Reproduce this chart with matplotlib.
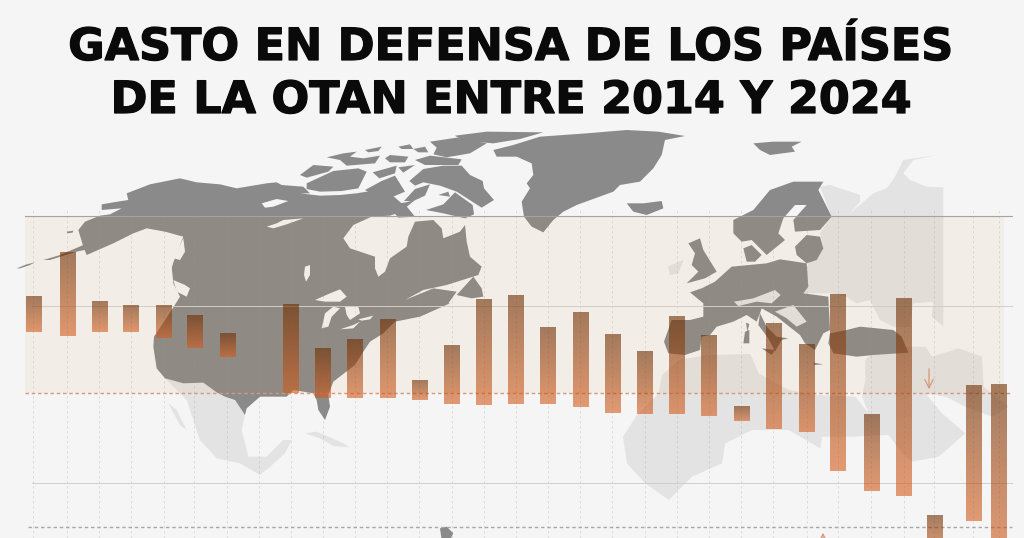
import matplotlib
matplotlib.use('Agg')
import matplotlib.pyplot as plt
import matplotlib.patheffects as pe
from matplotlib.patches import Polygon
import numpy as np

# 2014 / 2024 spending levels, no tick labels in the picture so the scale is read from the ref lines
slots = [0, 1, 2, 3, 4, 5, 6, 8, 9, 10, 11, 12, 13, 14, 15, 16, 17, 18, 19, 20,
         21, 22, 23, 24, 25, 26, 27, 28, 29, 30]
high_values = [2.54, 2.79, 2.51, 2.49, 2.49, 2.43, 2.33, 2.50, 2.25, 2.30, 2.41, 2.07, 2.27, 2.52, 2.55,
               2.37, 2.45, 2.33, 2.23, 2.43, 2.32, 1.92, 2.39, 2.27, 2.55, 1.88, 2.53, 1.31, 2.04, 2.05]
low_values = [2.34, 2.32, 2.34, 2.34, 2.31, 2.25, 2.20, 2.00, 1.97, 1.97, 1.97, 1.96, 1.94, 1.93, 1.94,
              1.94, 1.92, 1.89, 1.88, 1.88, 1.87, 1.84, 1.80, 1.78, 1.56, 1.45, 1.42, 1.10, 1.28, 1.10]
solid_levels = [2.992, 2.489, 1.494]
dashed_levels = [2.0, 1.247]
title_lines = ['GASTO EN DEFENSA DE LOS PAÍSES', 'DE LA OTAN ENTRE 2014 Y 2024']

# small shifts of the columns off the regular grid
nudge = {1: .055, 2: .05, 3: .03, 4: .055, 6: .03, 24: .045, 26: .04, 27: .045, 29: .22}

BG = '#f5f5f5'
DARK = '#8a8a8a'
LIGHT = '#e3e3e3'


def crop(x0, y0, pts):
    # outlines were traced on 3x crops of the picture
    return [(x0 + x / 3, y0 + y / 3) for x, y in pts]


A = (10, 125)
B = (300, 125)
C = (660, 130)
D = (0, 200)
E = (512, 200)

dark_land = [
    # north america
    crop(*A, [(205, 315), (225, 290), (270, 272), (300, 268), (335, 250), (275, 255), (275, 238), (335, 228),
              (355, 225), (350, 205), (420, 178), (510, 160), (560, 172), (630, 178), (680, 190), (770, 175),
              (800, 172), (815, 180), (880, 185), (900, 205)])
    + crop(*B, [(0, 205), (60, 212), (120, 210), (170, 205), (230, 195), (270, 205), (305, 235), (345, 225),
                (300, 262), (270, 272), (215, 275), (160, 300), (130, 340), (150, 370), (225, 395), (225, 430),
                (235, 455), (255, 440), (270, 400), (320, 365), (325, 335), (345, 290), (400, 285), (425, 310),
                (430, 340), (480, 320), (495, 300), (500, 350), (510, 395), (545, 425), (535, 450), (440, 480),
                (370, 495), (315, 525), (400, 490), (470, 500), (445, 535)])
    + crop(*D, [(1350, 310), (1260, 350), (1185, 365), (1150, 400), (1110, 425), (1090, 455), (1065, 495),
                (1000, 545), (985, 585), (990, 620), (975, 660), (955, 630), (950, 600), (940, 580), (880, 570),
                (860, 590), (780, 590), (740, 625), (735, 645), (705, 600), (675, 590), (650, 577), (610, 548),
                (550, 550), (495, 535), (470, 505), (460, 440), (462, 410), (515, 330), (540, 290), (520, 250),
                (515, 200), (550, 110), (495, 95), (440, 85), (400, 100), (340, 130), (260, 165), (250, 140)]),
    crop(*A, [(20, 430), (50, 418), (75, 412), (60, 420), (30, 430)]),
    crop(*A, [(100, 405), (150, 390), (255, 345), (310, 345), (270, 365), (200, 380), (120, 405)]),
    crop(*A, [(170, 320), (190, 317), (188, 323), (172, 325)]),
    # arctic islands
    crop(*B, [(0, 150), (40, 120), (100, 125), (85, 140), (20, 158)]),
    crop(*B, [(20, 175), (100, 138), (175, 130), (200, 140), (175, 190), (125, 198), (60, 200), (20, 192)]),
    crop(*B, [(80, 97), (130, 85), (170, 80), (150, 95), (190, 100), (240, 92), (225, 115), (140, 122), (120, 105)]),
    crop(*B, [(195, 75), (245, 65), (235, 78), (205, 82)]),
    crop(*B, [(255, 100), (270, 90), (325, 95), (315, 112), (270, 112)]),
    crop(*B, [(295, 65), (330, 58), (340, 72), (305, 72)]),
    crop(*B, [(340, 72), (375, 65), (385, 82), (355, 82)]),
    crop(*B, [(345, 105), (390, 92), (485, 103), (475, 120), (375, 120)]),
    crop(*B, [(390, 50), (470, 38), (560, 55), (510, 85), (440, 97), (400, 88), (410, 68)]),
    crop(*B, [(465, 32), (560, 20), (730, 22), (660, 42), (580, 55), (490, 48)]),
    crop(*B, [(218, 142), (290, 122), (285, 145), (238, 160)]),
    crop(*B, [(295, 127), (345, 120), (310, 143)]),
    crop(*B, [(245, 168), (285, 152), (315, 200), (255, 225), (225, 212), (195, 195)]),
    crop(*B, [(312, 228), (345, 192), (390, 178), (375, 212), (340, 228)]),
    crop(*B, [(328, 168), (370, 132), (430, 122), (485, 122), (510, 150), (548, 168), (552, 190), (582, 225),
              (545, 248), (520, 232), (470, 200), (420, 182), (370, 172), (345, 182)]),
    crop(*B, [(378, 255), (430, 238), (465, 202), (518, 240), (522, 268), (495, 280), (430, 265)]),
    crop(*B, [(278, 258), (310, 232), (345, 275), (295, 278)]),
    crop(*B, [(415, 210), (445, 200), (450, 215)]),
    crop(*B, [(470, 510), (520, 455), (545, 490), (550, 515), (515, 520)]),
    # greenland, iceland, svalbard
    crop(*B, [(580, 75), (640, 60), (720, 35), (860, 25), (980, 15), (1075, 20), (1155, 33), (1095, 45), (1085, 90),
              (1060, 130), (1020, 170), (960, 180), (940, 200), (830, 240), (790, 260), (760, 285), (730, 322),
              (695, 305), (672, 275), (665, 230), (690, 190), (680, 175), (700, 150), (695, 115), (650, 95),
              (590, 95)]),
    crop(*B, [(980, 235), (1030, 235), (1085, 228), (1090, 250), (1040, 270), (1000, 260)]),
    crop(*C, [(280, 40), (340, 35), (425, 35), (395, 50), (405, 65), (330, 75), (300, 60)]),
    # europe
    crop(*C, [(220, 270), (280, 240), (330, 180), (400, 155), (490, 155), (475, 180), (515, 260), (480, 300),
              (405, 305), (400, 270), (440, 225), (405, 225), (370, 265), (355, 310), (375, 330), (320, 375),
              (275, 330), (245, 335), (220, 310)]),
    crop(*C, [(85, 340), (120, 325), (130, 360), (170, 425), (135, 445), (80, 460), (115, 425), (95, 405), (105, 370)]),
    crop(*C, [(250, 355), (275, 345), (305, 375), (285, 395), (260, 395)]),
    crop(*C, [(405, 350), (440, 315), (480, 320), (490, 355), (470, 390), (440, 400), (410, 375)]),
    crop(*C, [(90, 487), (125, 475), (165, 455), (215, 410), (320, 400), (360, 388), (440, 400), (445, 470),
              (430, 490), (505, 500), (510, 600), (490, 610), (465, 660), (435, 640), (420, 615), (350, 560),
              (305, 535), (300, 550), (290, 575), (260, 555), (220, 575), (170, 590), (150, 615), (125, 620),
              (120, 660), (75, 675), (25, 670), (12, 635), (35, 570), (90, 570), (130, 560), (130, 520)]),
    crop(*C, [(300, 550), (320, 590), (350, 620), (385, 625), (365, 630), (345, 665), (325, 625), (295, 585)]),
    crop(*C, [(510, 610), (560, 600), (600, 590), (700, 600), (725, 620), (745, 668), (640, 675), (590, 680),
              (520, 670), (505, 640)]),
    crop(*C, [(255, 605), (268, 600), (268, 640), (250, 640)]),
    crop(*C, [(258, 578), (268, 582), (262, 605)]),
    crop(*C, [(305, 655), (345, 660), (335, 675)]),
    crop(*C, [(460, 698), (490, 703), (462, 705)]),
    crop(*D, [(1320, 985), (1340, 980), (1360, 1000), (1350, 1020), (1325, 1020)]),
]

light_land = [
    # mexico, cuba
    crop(*D, [(495, 535), (550, 550), (610, 548), (675, 590), (705, 600), (735, 645), (725, 690), (745, 770),
              (800, 770), (850, 720), (875, 720), (855, 760), (810, 800), (780, 825), (720, 790), (650, 775),
              (600, 720), (560, 600), (520, 560)]),
    crop(*D, [(505, 610), (530, 630), (560, 690), (540, 675)]),
    crop(*D, [(915, 700), (950, 695), (1020, 725), (1050, 742), (1000, 738), (960, 715)]),
    # russia and neighbours
    crop(*C, [(480, 170), (510, 165), (600, 195), (600, 215), (570, 250), (640, 190), (680, 175), (705, 140),
              (730, 90), (830, 75), (760, 90), (730, 130), (750, 150), (800, 170), (850, 172), (850, 590),
              (815, 560), (820, 515), (760, 520), (750, 590), (700, 590), (660, 570), (630, 510), (590, 520),
              (560, 500), (510, 490), (430, 490), (445, 400), (490, 350), (480, 310), (515, 260)]),
    # africa and the middle east
    crop(*E, [(333, 710), (375, 645), (440, 580), (450, 525), (500, 480), (590, 465), (715, 462), (740, 520),
              (830, 570), (920, 585), (1030, 590), (1070, 640), (1050, 590), (1060, 540), (1060, 480), (1100, 440),
              (1240, 440), (1260, 470), (1340, 445), (1410, 470), (1415, 560), (1490, 620), (1440, 650), (1360, 620),
              (1300, 590), (1240, 580), (1290, 640), (1360, 700), (1280, 770), (1200, 785), (1170, 760), (1130, 705),
              (1020, 710), (930, 710), (925, 745), (830, 690), (720, 690), (640, 730), (630, 790), (540, 830),
              (470, 900), (400, 850), (345, 790)]),
    crop(*C, [(25, 410), (70, 390), (55, 430), (30, 435)]),
    crop(*C, [(222, 515), (280, 505), (345, 480), (362, 495), (335, 520), (290, 515), (235, 528)]),
    crop(*C, [(345, 545), (400, 525), (440, 575), (410, 590), (380, 565)]),
]

# lakes and inlets, same colour as the background
water = [
    crop(*D, [(945, 300), (990, 280), (1020, 268), (1040, 290), (1020, 305), (975, 305)]),
    crop(*D, [(965, 385), (975, 340), (1000, 320), (1020, 325), (995, 350), (985, 380)]),
    crop(*D, [(1035, 320), (1075, 320), (1080, 340), (1050, 360), (1040, 345)]),
    crop(*D, [(1020, 388), (1060, 375), (1080, 365), (1060, 385)]),
    crop(*D, [(1075, 358), (1120, 347), (1110, 358), (1085, 362)]),
    crop(*D, [(915, 200), (930, 195), (930, 225), (918, 245), (912, 225)]),
    crop(*A, [(755, 235), (800, 222), (835, 228), (790, 245), (765, 248)]),
    crop(*A, [(770, 305), (800, 295), (820, 285), (880, 280), (830, 298), (790, 310)]),
    crop(*A, [(490, 400), (520, 340), (525, 380), (510, 405)]),
    crop(*A, [(470, 440), (490, 412), (480, 445)]),
    crop(*A, [(490, 465), (525, 480), (540, 490), (530, 515), (500, 500)]),
    crop(*B, [(225, 375), (290, 380), (265, 395), (240, 390)]),
    crop(*C, [(360, 345), (380, 340), (375, 355)]),
]

fig = plt.figure(figsize=(10.24, 5.38), dpi=100, facecolor=BG)

ax_map = fig.add_axes([0, 0, 1, 1], zorder=0)
ax_map.set_xlim(0, 1024)
ax_map.set_ylim(538, 0)
ax_map.set_facecolor(BG)
ax_map.axis('off')
for pts in light_land:
    ax_map.add_patch(Polygon(pts, closed=True, fc=LIGHT, ec='none'))
for pts in dark_land:
    ax_map.add_patch(Polygon(pts, closed=True, fc=DARK, ec='none'))
for pts in water:
    ax_map.add_patch(Polygon(pts, closed=True, fc=BG, ec='none'))
# the lighter countries sit inside europe, so they go over the dark land
for pts in light_land[-3:]:
    ax_map.add_patch(Polygon(pts, closed=True, fc=LIGHT, ec='none'))

ax = fig.add_axes([0, 0, 1, 1], zorder=1)
ax.patch.set_alpha(0)
x_min, x_max = -1.035, 30.79
y_min, y_max = 1.185, 4.208
ax.axis('off')


def to_slot(px):
    return x_min + px / 1024 * (x_max - x_min)


# shaded band between the two levels
ax.axhspan(dashed_levels[0], solid_levels[0], xmin=25 / 1024, xmax=1004 / 1024, fc='#d8913b', alpha=.07, lw=0, zorder=1)

grid_slots = np.arange(31)
grid_x = [s + nudge.get(s, 0) for s in grid_slots]
ax.vlines(grid_x, y_min, 3.04, color='#9a9a9a', lw=.6, ls=(0, (3, 3)), alpha=.3, zorder=2)

ax.plot([to_slot(25), to_slot(1012)], [solid_levels[0]] * 2, color='#a8a29c', lw=.8, zorder=3)
for lev in solid_levels[1:]:
    ax.plot([to_slot(32), to_slot(1012)], [lev, lev], color='#d2cdc8', lw=.7, zorder=3)
ax.plot([to_slot(25), to_slot(1012)], [dashed_levels[0]] * 2, color='#d9977a', lw=1, ls=(0, (2.5, 2)), zorder=3)
ax.plot([to_slot(28), to_slot(1012)], [dashed_levels[1]] * 2, color='#a8a8a8', lw=1, ls=(0, (2.5, 2)), zorder=3)

# bars fade from dark brown at the top to orange at the bottom
top_col = np.array([110, 45, 0]) / 255
bottom_col = np.array([212, 93, 28]) / 255
t = np.linspace(0, 1, 64)[:, None]
grad = np.dstack([top_col[c] + (bottom_col[c] - top_col[c]) * t for c in range(3)] + [np.full_like(t, .6)])
for s, hi, lo in zip(slots, high_values, low_values):
    xc = s + nudge.get(s, 0)
    ax.imshow(grad, extent=[xc - .238, xc + .238, lo, hi], aspect='auto', zorder=4, interpolation='bilinear')
ax.set_xlim(x_min, x_max)
ax.set_ylim(y_min, y_max)

ax_top = fig.add_axes([0, 0, 1, 1], zorder=2)
ax_top.set_xlim(0, 1024)
ax_top.set_ylim(538, 0)
ax_top.patch.set_alpha(0)
ax_top.axis('off')
ax_top.annotate('', xy=(929, 392), xytext=(929, 366),
                arrowprops=dict(arrowstyle='->,head_width=.3,head_length=.6', color='#d9977a', lw=.9))
ax_top.annotate('', xy=(823, 530), xytext=(823, 548),
                arrowprops=dict(arrowstyle='->,head_width=.3,head_length=.6', color='#d9977a', lw=.9))

# the original face is heavier than DejaVu Bold, a thin stroke makes up for it
heavy = [pe.withStroke(linewidth=.9, foreground='#0a0a0a')]
fig.text(512 / 1024, 1 - 60 / 538, title_lines[0], ha='center', va='baseline', family='DejaVu Sans',
         weight='bold', fontsize=32, color='#0a0a0a', path_effects=heavy)
fig.text(512 / 1024, 1 - 113 / 538, title_lines[1], ha='center', va='baseline', family='DejaVu Sans',
         weight='bold', fontsize=32, color='#0a0a0a', path_effects=heavy)

fig.savefig('out.png', dpi=100, facecolor=BG)
